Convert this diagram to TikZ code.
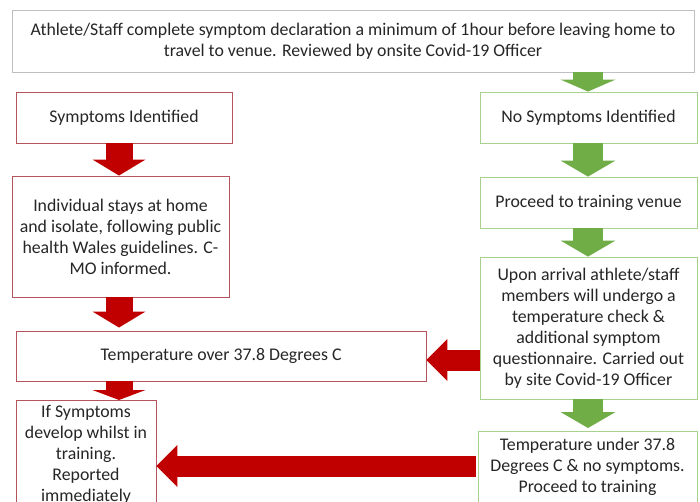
\documentclass[tikz,border=0pt]{standalone}
\usepackage{fontspec}
\setmainfont{Carlito}
\usetikzlibrary{arrows.meta}
\definecolor{arrred}{HTML}{C00000}
\definecolor{arrgreen}{HTML}{70AD47}
\definecolor{boxred}{HTML}{B5545C}
\definecolor{boxgreen}{HTML}{A9D18E}
\definecolor{boxgray}{HTML}{BFBFBF}
\definecolor{txtcol}{HTML}{262626}
\newcommand\bodyfont{\fontsize{17.8}{21}\selectfont}
\tikzset{
  box/.style={draw, fill=white, line width=0.9pt, align=center, inner sep=0pt, font=\bodyfont, text=txtcol},
  graybox/.style={box, draw=boxgray},
  redbox/.style={box, draw=boxred},
  greenbox/.style={box, draw=boxgreen},
  txt/.style={align=center, inner sep=0pt, font=\bodyfont, text=txtcol},
  redv/.style={draw=arrred, line width=27pt, -{Triangle[length=16pt,width=53pt,line width=0pt]}},
  greenv/.style={draw=arrgreen, line width=30pt, -{Triangle[length=16pt,width=55pt,line width=0pt]}},
  redh/.style={draw=arrred, line width=21pt, -{Triangle[length=21pt,width=42pt,line width=0pt]}},
}
\begin{document}
\begin{tikzpicture}[x=1pt,y=-1pt]
\path[use as bounding box] (0,0) rectangle (700,502);
\clip (0,0) rectangle (700,502);
\fill[white] (0,0) rectangle (700,502);

% boxes
\node[graybox, minimum width=682pt, minimum height=62pt] (top) at (353,41)
  {Athlete/Staff complete symptom declaration a minimum of 1hour before leaving home to\\travel to venue. Reviewed by onsite Covid-19 Officer};
\node[redbox, minimum width=216pt, minimum height=51pt] (sym) at (124,117.5) {Symptoms Identified};
\node[greenbox, minimum width=217pt, minimum height=51pt] (nosym) at (588.5,117.5) {No Symptoms Identified};
\node[redbox, minimum width=217pt, minimum height=121pt] (indiv) at (120.5,236.5)
  {Individual stays at home\\and isolate, following public\\health Wales guidelines. C-\\MO informed.};
\node[greenbox, minimum width=217pt, minimum height=51pt] (proceed) at (588.5,202.5) {Proceed to training venue};
\node[greenbox, minimum width=217pt, minimum height=142pt] (upon) at (588.5,328)
  {Upon arrival athlete/staff\\members will undergo a\\temperature check \&\\additional symptom\\questionnaire. Carried out\\by site Covid-19 Officer};
\node[redbox, minimum width=410pt, minimum height=50pt] (tover) at (221,356) {Temperature over 37.8 Degrees C};
\node[redbox, minimum width=140pt, minimum height=140pt, anchor=north] (ifs) at (86,400) {};
\node[txt, anchor=north] (ifstext) at ([yshift=-5pt]ifs.north)
  {If Symptoms\\develop whilst in\\training.\\Reported\\immediately};
\node[greenbox, minimum width=219pt, minimum height=120pt, anchor=north] (tunder) at (587.5,431) {};
\node[txt, anchor=north] (tundertext) at ([yshift=-7pt]tunder.north)
  {Temperature under 37.8\\Degrees C \& no symptoms.\\Proceed to training};

% column coordinates
\coordinate (lx) at (119,0);
\coordinate (gx) at (588,0);
\coordinate (h1) at (0,360);
\coordinate (h2) at (0,466);

% red vertical arrows
\draw[redv] (sym.south -| lx) -- (indiv.north -| lx);
\draw[redv] (indiv.south -| lx) -- ([yshift=3pt]tover.north -| lx);
\draw[redv, -{Triangle[length=10pt,width=53pt,line width=0pt]}] (tover.south -| lx) -- (ifs.north -| lx);

% green vertical arrows
\draw[greenv, -{Triangle[length=12pt,width=55pt,line width=0pt]}] (top.south -| gx) -- (nosym.north -| gx);
\draw[greenv] (nosym.south -| gx) -- (proceed.north -| gx);
\draw[greenv] (proceed.south -| gx) -- (upon.north -| gx);
\draw[greenv] (upon.south -| gx) -- ([yshift=3pt]tunder.north -| gx);

% red horizontal arrows
\draw[redh] (upon.west |- h1) -- (tover.east |- h1);
\draw[redh] ([xshift=-2pt]tunder.west |- h2) -- (ifs.east |- h2);
\end{tikzpicture}
\end{document}
